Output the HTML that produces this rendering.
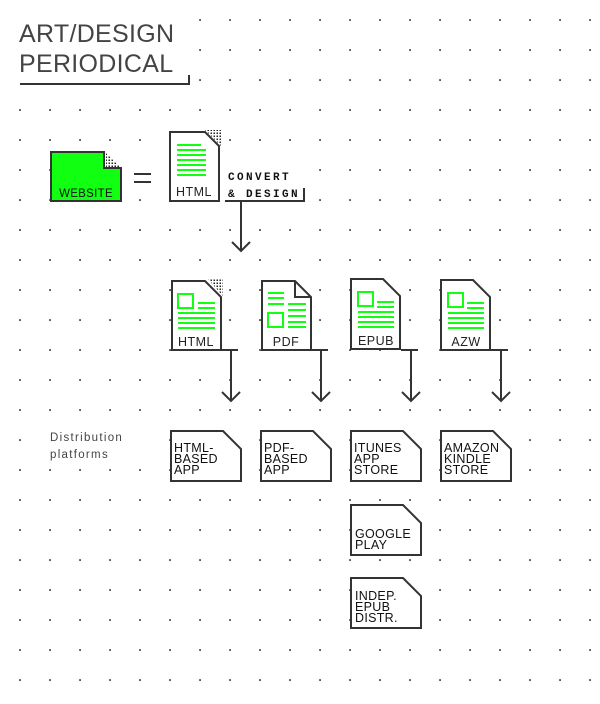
<!DOCTYPE html>
<html><head><meta charset="utf-8"><style>
html,body{margin:0;padding:0;background:#fff;}
svg{display:block;}
text{font-family:"Liberation Sans",sans-serif;}
.b{font-size:12.5px;fill:#111;letter-spacing:0.3px;}
.d{font-size:12.5px;fill:#222;letter-spacing:0.5px;text-anchor:middle;}
.m{font-family:"Liberation Mono",monospace;font-weight:bold;font-size:11px;letter-spacing:2.4px;fill:#111;}
.s{fill:#fff;stroke:#333;stroke-width:2;}
.g{stroke:#1f1;stroke-width:2;fill:none;}
.k{stroke:#333;stroke-width:2;fill:none;}
</style></head><body>
<svg width="600" height="704" viewBox="0 0 600 704" xmlns="http://www.w3.org/2000/svg">
<defs>
<pattern id="dots" patternUnits="userSpaceOnUse" x="0" y="0" width="30" height="30">
<rect x="19.2" y="19.2" width="1.7" height="1.7" fill="#333"/>
</pattern>
<pattern id="fd" patternUnits="userSpaceOnUse" width="3" height="3">
<rect x="0.5" y="0.5" width="1.5" height="1.5" fill="#222"/>
</pattern>
</defs>
<rect x="0" y="0" width="600" height="695" fill="url(#dots)"/>
<rect x="0" y="0" width="192" height="100" fill="#fff"/>
<rect x="0" y="0" width="18" height="100" fill="#fff"/>

<!-- title -->
<text x="19" y="42" style="font-size:25px;fill:#444;letter-spacing:0.3px">ART/DESIGN</text>
<text x="19" y="72" style="font-size:25px;fill:#444;letter-spacing:0.3px">PERIODICAL</text>
<path class="k" d="M20 84 H189 V75" stroke-width="1.6"/>

<!-- website -->
<rect x="100" y="148" width="24" height="22" fill="#fff"/>
<polygon points="106,167 120,167 106,153" fill="url(#fd)"/>
<path d="M51 152 H104 V168 H121 V201 H51 Z" fill="#1f1" stroke="#333" stroke-width="2"/>
<text x="86" y="197" style="font-size:11.5px;fill:#111;text-anchor:middle;letter-spacing:0.3px">WEBSITE</text>
<rect x="130" y="165" width="25" height="22" fill="#fff"/>
<path class="k" d="M134 174 H151 M134 182 H151" stroke-width="1.6"/>

<!-- html source doc -->
<rect x="160" y="125" width="65" height="80" fill="#fff"/>
<polygon points="205,130 221,130 221,146" fill="url(#fd)"/>
<path class="s" d="M170 132 H205 L219 146 V201 H170 Z"/>
<path class="g" d="M177 145 H201 M177 150 H206 M177 155 H206 M177 160 H206 M177 165 H206 M177 170 H206 M177 175 H206" stroke-width="1.6"/>
<text x="194" y="196" class="d">HTML</text>

<!-- convert -->
<rect x="224" y="165" width="85" height="40" fill="#fff"/>
<text x="228" y="180" class="m">CONVERT</text>
<text x="228" y="197" class="m">&amp; DESIGN</text>
<path class="k" d="M225 201 H304 V188" stroke-width="1.6"/>
<path class="k" d="M241 201 V251 M232 242 L241 251 L250 242"/>

<!-- row 2 docs -->
<g>
<polygon points="207,278 223,278 223,296" fill="url(#fd)"/>
<path class="s" d="M172 281 H205 L221 297 V350 H172 Z"/>
<rect class="g" x="178" y="294" width="15" height="14"/>
<path class="g" d="M198 303 H215 M198 308 H215 M178 313 H215 M178 318 H215 M178 323 H215 M178 328 H215" stroke-width="1.6"/>
<text x="196" y="346" class="d">HTML</text>
</g>
<g>
<path class="s" d="M262 281 H295 L311 297 V350 H262 Z"/>
<path class="k" d="M295 281 V297 H311" stroke-width="1.5"/>
<path class="g" d="M268 293 H284 M268 298 H284 M268 304 H284 M288 304 H306 M288 310 H306 M288 316 H306 M288 322 H306 M288 327 H306" stroke-width="1.6"/>
<rect class="g" x="268" y="313" width="15" height="14"/>
<text x="286" y="346" class="d">PDF</text>
</g>
<g>
<polygon points="382,282 396,296 382,296" fill="url(#fd)"/>
<path class="s" d="M351 279 H383 L400 296 V349 H351 Z"/>
<rect class="g" x="358" y="292" width="15" height="14"/>
<path class="g" d="M377 302 H394 M377 307 H394 M358 312 H394 M358 317 H394 M358 322 H394 M358 327 H394" stroke-width="1.6"/>
<text x="376" y="345" class="d">EPUB</text>
</g>
<g>
<polygon points="472,282 486,296 472,296" fill="url(#fd)"/>
<path class="s" d="M441 280 H473 L490 297 V350 H441 Z"/>
<rect class="g" x="448" y="293" width="15" height="14"/>
<path class="g" d="M467 303 H484 M467 308 H484 M448 313 H484 M448 318 H484 M448 323 H484 M448 328 H484" stroke-width="1.6"/>
<text x="466" y="346" class="d">AZW</text>
</g>

<!-- arrows -->
<g class="k">
<path d="M222 350 H238 M231 350 V401 M222 392 L231 401 L240 392"/>
<path d="M312 350 H328 M321 350 V401 M312 392 L321 401 L330 392"/>
<path d="M401 350 H418 M411 350 V401 M402 392 L411 401 L420 392"/>
<path d="M491 350 H508 M501 350 V401 M492 392 L501 401 L510 392"/>
</g>

<!-- distribution -->
<rect x="45" y="425" width="100" height="40" fill="#fff"/>
<text x="50" y="441" style="font-size:11.5px;fill:#444;letter-spacing:1.3px">Distribution</text>
<text x="50" y="458" style="font-size:11.5px;fill:#444;letter-spacing:1.3px">platforms</text>

<!-- boxes -->
<g>
<path class="s" d="M171 431 H223 L241 449 V481 H171 Z"/>
<text class="b" x="174" y="452">HTML-</text><text class="b" x="174" y="463">BASED</text><text class="b" x="174" y="474">APP</text>
<path class="s" d="M261 431 H313 L331 449 V481 H261 Z"/>
<text class="b" x="264" y="452">PDF-</text><text class="b" x="264" y="463">BASED</text><text class="b" x="264" y="474">APP</text>
<path class="s" d="M351 431 H403 L421 449 V481 H351 Z"/>
<text class="b" x="354" y="452">ITUNES</text><text class="b" x="354" y="463">APP</text><text class="b" x="354" y="474">STORE</text>
<path class="s" d="M441 431 H493 L511 449 V481 H441 Z"/>
<text class="b" x="444" y="452">AMAZON</text><text class="b" x="444" y="463">KINDLE</text><text class="b" x="444" y="474">STORE</text>
<path class="s" d="M351 505 H403 L421 523 V555 H351 Z"/>
<text class="b" x="355" y="538">GOOGLE</text><text class="b" x="355" y="549">PLAY</text>
<path class="s" d="M351 578 H403 L421 596 V628 H351 Z"/>
<text class="b" x="355" y="600">INDEP.</text><text class="b" x="355" y="611">EPUB</text><text class="b" x="355" y="622">DISTR.</text>
</g>
</svg>
</body></html>
